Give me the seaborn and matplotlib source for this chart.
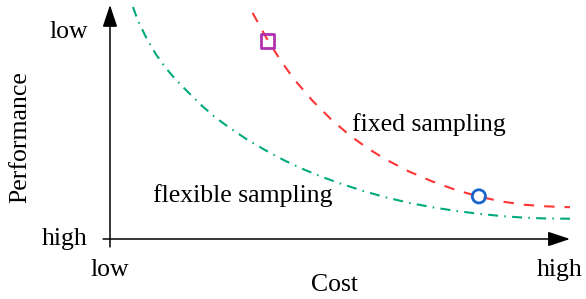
import numpy as np
import pandas as pd
import seaborn as sns
import matplotlib.pyplot as plt

# Кривые (стоимость 0..100, "производительность" 0..100, 100 = low)
fixed_cost = [31, 34, 37, 40, 44, 48, 52, 56, 60, 65, 70, 75, 80, 85, 90, 95, 100]
fixed_perf = [108.2, 96.2, 85.7, 76.5, 66.2, 57.4, 49.8, 43.4, 38.0, 32.3,
              27.6, 23.6, 20.4, 18.0, 16.4, 15.6, 15.2]

flex_cost = [5, 6, 8, 10, 12, 14, 17, 20, 23, 26, 30, 34, 38, 42, 46, 50, 55,
             60, 65, 70, 75, 80, 85, 90, 95, 100]
flex_perf = [111.0, 104.8, 95.8, 88.3, 82.2, 77.0, 70.2, 63.7, 58.0, 53.2, 47.3,
             42.2, 37.5, 33.4, 29.8, 26.6, 23.0, 19.9, 17.3, 15.2, 13.5, 12.1,
             11.0, 10.2, 9.8, 9.7]

square_pt = (34.3, 94.7)
circle_pt = (80.2, 20.4)

tick_x = ["low", "high"]
tick_y = ["high", "low"]

sns.set_style("white")
plt.rcParams['font.family'] = ['Liberation Serif', 'DejaVu Serif']
plt.rcParams['text.color'] = 'black'

fig = plt.figure(figsize=(5.86, 2.99), dpi=100)
ax = fig.add_axes([0, 0, 1, 1])
ax.set_xlim(-23.91, 103.48)
ax.set_ylim(-28.71, 114.35)
ax.axis("off")

fixed = pd.DataFrame({"cost": fixed_cost, "perf": fixed_perf})
flex = pd.DataFrame({"cost": flex_cost, "perf": flex_perf})

sns.lineplot(data=fixed, x="cost", y="perf", ax=ax, color="#ff3535",
             lw=1.5, sort=False, linestyle=(0, (5.0, 4.8)))
sns.lineplot(data=flex, x="cost", y="perf", ax=ax, color="#00aa7c",
             lw=1.5, sort=False, linestyle=(0, (4.8, 3.0, 0.75, 3.0)))

sns.scatterplot(x=[square_pt[0]], y=[square_pt[1]], ax=ax, marker="s", s=90,
                facecolor="none", edgecolor="#b030b0", linewidth=2, zorder=5)
sns.scatterplot(x=[circle_pt[0]], y=[circle_pt[1]], ax=ax, marker="o", s=90,
                facecolor="none", edgecolor="#1a66cc", linewidth=2, zorder=5)

# оси со стрелками
arrow = dict(arrowstyle="-|>,head_length=0.9,head_width=0.3", mutation_scale=15,
             lw=1.1, color="black", shrinkA=0, shrinkB=0)
ax.annotate("", xy=(0, 112.0), xytext=(0, -3.8), arrowprops=arrow)
ax.annotate("", xy=(100.0, 0), xytext=(-1.5, 0), arrowprops=arrow)

fs = 18.5
ax.text(-4.8, 99.2, tick_y[1], ha="right", va="center", fontsize=fs)
ax.text(-4.8, 0, tick_y[0], ha="right", va="center", fontsize=fs)
ax.text(0, -14.6, tick_x[0], ha="center", va="center", fontsize=fs)
ax.text(97.8, -14.6, tick_x[1], ha="center", va="center", fontsize=fs)
ax.text(48.9, -21.8, "Cost", ha="center", va="center", fontsize=fs)
ax.text(-19.6, 48.8, "Performance", ha="center", va="center", rotation=90, fontsize=fs)
ax.text(69.3, 55.0, "fixed sampling", ha="center", va="center", fontsize=fs)
ax.text(28.8, 21.0, "flexible sampling", ha="center", va="center", fontsize=fs)

fig.savefig("out.png", dpi=100)
